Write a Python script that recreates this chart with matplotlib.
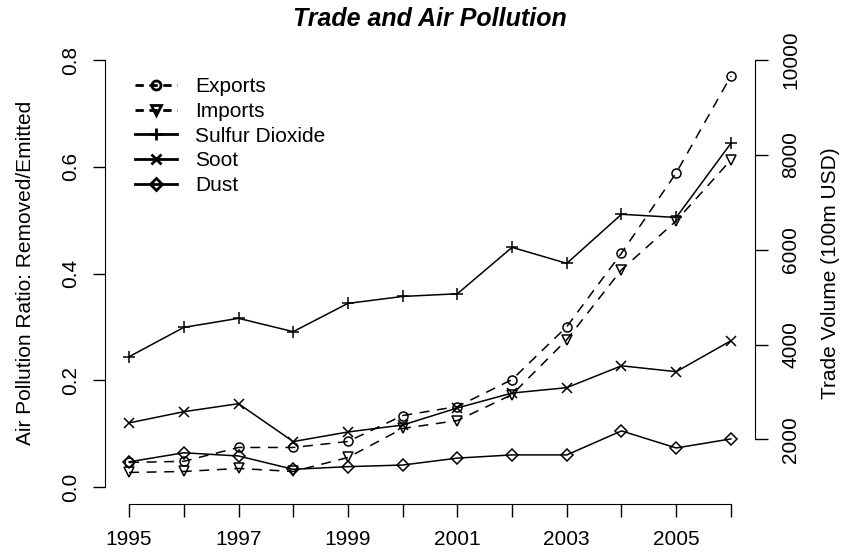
import numpy as np
import matplotlib
matplotlib.use('Agg')
import matplotlib.pyplot as plt
from matplotlib.lines import Line2D

plt.rcParams['font.family'] = ['Liberation Sans', 'DejaVu Sans']
plt.rcParams['font.size'] = 15

years = np.arange(1995, 2007)
exports = [1516, 1540, 1832, 1832, 1958, 2505, 2695, 3263, 4379, 5930, 7621, 9663]
imports = [1305, 1326, 1389, 1326, 1621, 2232, 2400, 2947, 4105, 5579, 6610, 7895]
sulfur = [0.244, 0.299, 0.316, 0.291, 0.344, 0.357, 0.362, 0.449, 0.419, 0.511, 0.505, 0.644]
soot = [0.120, 0.141, 0.156, 0.085, 0.103, 0.116, 0.148, 0.176, 0.186, 0.227, 0.216, 0.274]
dust = [0.047, 0.064, 0.058, 0.033, 0.038, 0.041, 0.054, 0.060, 0.060, 0.105, 0.073, 0.090]
labels = ['Exports', 'Imports', 'Sulfur Dioxide', 'Soot', 'Dust']

W, H = 844, 556
fig = plt.figure(figsize=(W / 100, H / 100), dpi=100)
ax = fig.add_axes([105 / W, 52 / H, 650 / W, 461 / H])
ax2 = ax.twinx()

lw = 1.1
dash = (6.5, 5)

ax.plot(years, sulfur, '-', color='k', lw=lw, marker='+', ms=9, mew=lw)
ax.plot(years, soot, '-', color='k', lw=lw, marker='x', ms=7.5, mew=lw)
ax.plot(years, dust, '-', color='k', lw=lw, marker='D', ms=6.5, mew=lw, mfc='none')
ax2.plot(years, exports, color='k', lw=lw, dashes=dash, marker='o', ms=6.5, mew=lw, mfc='none')
ax2.plot(years, imports, color='k', lw=lw, dashes=dash, marker='v', ms=7.5, mew=lw, mfc='none')

ax.set_xlim(1994.56, 2006.44)
ax.set_ylim(-0.032, 0.832)
ax2.set_ylim(640, 10360)

for s in ['top', 'right']:
    ax.spines[s].set_visible(False)
for s in ['top', 'left', 'bottom']:
    ax2.spines[s].set_visible(False)
ax.spines['left'].set_bounds(0, 0.8)
ax.spines['bottom'].set_bounds(1995, 2006)
ax2.spines['right'].set_bounds(2000, 10000)

ax.set_xticks(years)
ax.set_xticklabels([str(y) if y % 2 == 1 else '' for y in years])
ax.set_yticks([0, 0.2, 0.4, 0.6, 0.8])
ax.set_yticklabels(['0.0', '0.2', '0.4', '0.6', '0.8'], rotation=90, va='center')
ax2.set_yticks([2000, 4000, 6000, 8000, 10000])
ax2.set_yticklabels(['2000', '4000', '6000', '8000', '10000'], rotation=90, va='center')

ax.tick_params(axis='x', direction='out', length=9, width=1, pad=10)
ax.tick_params(axis='y', direction='out', length=9, width=1, pad=9)
ax2.tick_params(axis='y', direction='out', length=9, width=1, pad=10)

fig.text(430 / W, 1 - 19 / H, 'Trade and Air Pollution', ha='center', va='center',
         fontsize=18, fontweight='bold', fontstyle='italic')
fig.text(26 / W, 1 - 273 / H, 'Air Pollution Ratio: Removed/Emitted', rotation=90,
         ha='center', va='center')
fig.text(830 / W, 1 - 273 / H, 'Trade Volume (100m USD)', rotation=90,
         ha='center', va='center')

handles = [
    Line2D([], [], color='k', lw=2, dashes=(3, 2), marker='o', ms=6.5, mew=2, mfc='none'),
    Line2D([], [], color='k', lw=2, dashes=(3, 2), marker='v', ms=7.5, mew=2, mfc='none'),
    Line2D([], [], color='k', lw=2, marker='+', ms=9, mew=2),
    Line2D([], [], color='k', lw=2, marker='x', ms=7.5, mew=2),
    Line2D([], [], color='k', lw=2, marker='D', ms=6.5, mew=2, mfc='none'),
]
fig.legend(handles, labels, loc='upper left', bbox_to_anchor=(135 / W, 1 - 77 / H),
           frameon=False, borderpad=0, borderaxespad=0, handlelength=2.0,
           handletextpad=0.9, labelspacing=0.28)

fig.savefig('out.png', dpi=100)
